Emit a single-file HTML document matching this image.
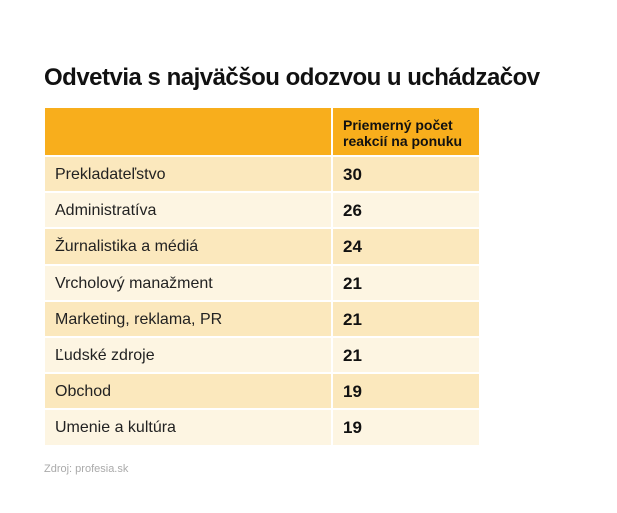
<!DOCTYPE html>
<html><head><meta charset="utf-8"><style>
body{margin:0;width:617px;height:513px;background:#fff;font-family:"Liberation Sans",Arial,sans-serif;position:relative;overflow:hidden}
h1{position:absolute;left:44px;top:64px;margin:0;font-size:24px;font-weight:bold;color:#111;letter-spacing:-0.5px}
table{position:absolute;left:43px;top:106px;border-collapse:separate;border-spacing:2px}
td{padding:2px 0 0 10px;font-size:16px;color:#222;height:32.2px}
td.n{font-weight:bold;font-size:17px;color:#111}
tr.h td{background:#f8ae1c;height:45px;font-weight:bold;font-size:14px;line-height:16px;color:#111}
tr.o td{background:#fbe8bd}
tr.e td{background:#fdf5e2}
.src{position:absolute;left:44px;top:463px;font-size:11px;color:#aaa}
</style></head><body>
<h1>Odvetvia s najväčšou odozvou u uchádzačov</h1>
<table>
<tr class="h"><td style="width:276px"></td><td style="width:136px">Priemerný počet<br>reakcií na ponuku</td></tr>
<tr class="o"><td>Prekladateľstvo</td><td class="n">30</td></tr>
<tr class="e"><td>Administratíva</td><td class="n">26</td></tr>
<tr class="o"><td>Žurnalistika a médiá</td><td class="n">24</td></tr>
<tr class="e"><td>Vrcholový manažment</td><td class="n">21</td></tr>
<tr class="o"><td>Marketing, reklama, PR</td><td class="n">21</td></tr>
<tr class="e"><td>Ľudské zdroje</td><td class="n">21</td></tr>
<tr class="o"><td>Obchod</td><td class="n">19</td></tr>
<tr class="e"><td>Umenie a kultúra</td><td class="n">19</td></tr>
</table>
<div class="src">Zdroj: profesia.sk</div>
</body></html>
